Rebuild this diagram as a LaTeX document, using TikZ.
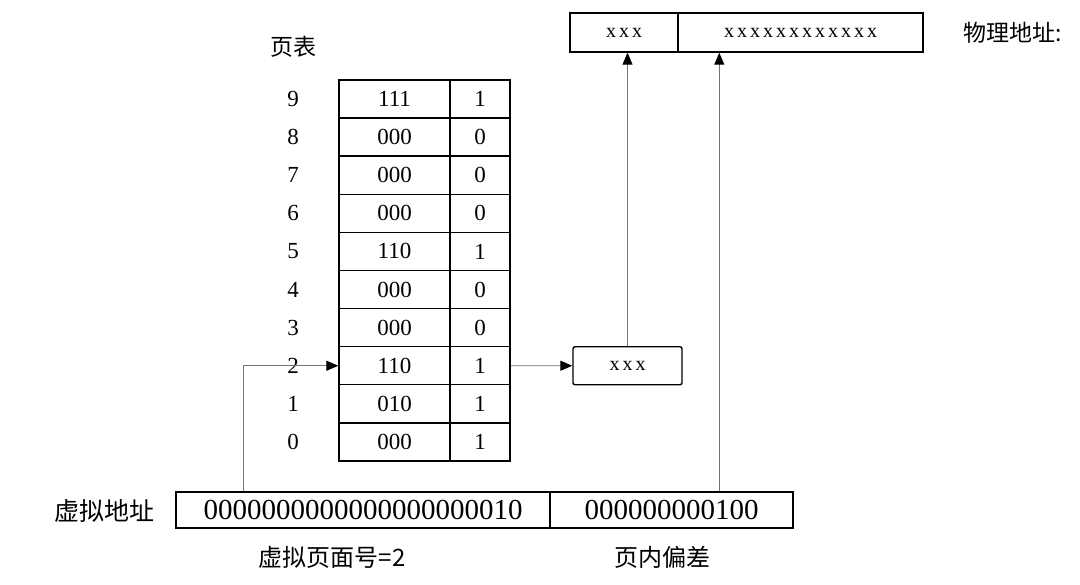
\documentclass[tikz,border=0pt]{standalone}
\usepackage{fontspec}
\setmainfont{Liberation Serif}
\newfontfamily\cjk{Noto Sans CJK SC}
\newfontfamily\spaced[LetterSpace=15]{Liberation Serif}
\usetikzlibrary{arrows.meta}
\begin{document}
\begin{tikzpicture}[x=1pt,y=-1pt,
  cell/.style={draw=black,line width=1.4pt,inner sep=0pt,minimum height=38.1pt,font=\fontsize{23}{23}\selectfont},
  idx/.style={inner sep=0pt,font=\fontsize{23}{23}\selectfont},
  lbl/.style={inner sep=0pt,font=\cjk\fontsize{23}{23}\selectfont},
  addr/.style={draw=black,line width=1.4pt,inner sep=0pt,minimum height=36pt,font=\fontsize{29}{29}\selectfont},
  phys/.style={draw=black,line width=1.4pt,inner sep=0pt,minimum height=39pt,font=\spaced\fontsize{20}{20}\selectfont},
  conn/.style={draw=black!55,line width=0.9pt,-{Triangle[length=12pt,width=10pt,color=black]}}
]
\useasboundingbox (0,0) rectangle (1080,585);
\fill[white] (0,0) rectangle (1080,585);

\node[lbl] (pt) at (293,47) {页表};

\foreach \i/\v/\b in {9/111/1,8/000/0,7/000/0,6/000/0,5/110/1,4/000/0,3/000/0,2/110/1,1/010/1,0/000/1}{
  \pgfmathsetmacro\yc{80+(9-\i)*38.1+19.05}
  \node[cell,minimum width=111pt] (v\i) at (394.5,\yc) {\v};
  \node[cell,minimum width=60pt] (b\i) at (480,\yc) {\b};
  \node[idx] (n\i) at (293,\yc) {\i};
}

\node[phys,minimum width=108pt] (pa) at (624,32.5) {xxx};
\node[phys,minimum width=245pt] (pb) at (800.5,32.5) {xxxxxxxxxxxx};
\node[lbl,anchor=west] (pl) at (963,33) {物理地址:};

\node[phys,minimum width=109pt,minimum height=38pt,rounded corners=2pt] (sx) at (627.5,365.75) {xxx};

\node[addr,minimum width=374pt] (va) at (363,510) {0000000000000000000010};
\node[addr,minimum width=243pt] (vb) at (671.5,510) {000000000100};
\node[lbl,font=\cjk\fontsize{25}{25}\selectfont] (vl) at (104,511) {虚拟地址};
\node[lbl,font=\cjk\fontsize{24}{24}\selectfont] (vpn) at (332,557) {虚拟页面号=2};
\node[lbl,font=\cjk\fontsize{24}{24}\selectfont] (off) at (662,557) {页内偏差};

\draw[conn] ([xshift=68pt]va.north west) |- (v2.west);
\draw[conn] (b2.east) -- (sx.west);
\draw[conn] (sx.north) -- (sx.north |- pa.south);
\coordinate (oc) at ([xshift=170pt]vb.north west);
\draw[conn] (oc) -- (oc |- pb.south);
\end{tikzpicture}
\end{document}
